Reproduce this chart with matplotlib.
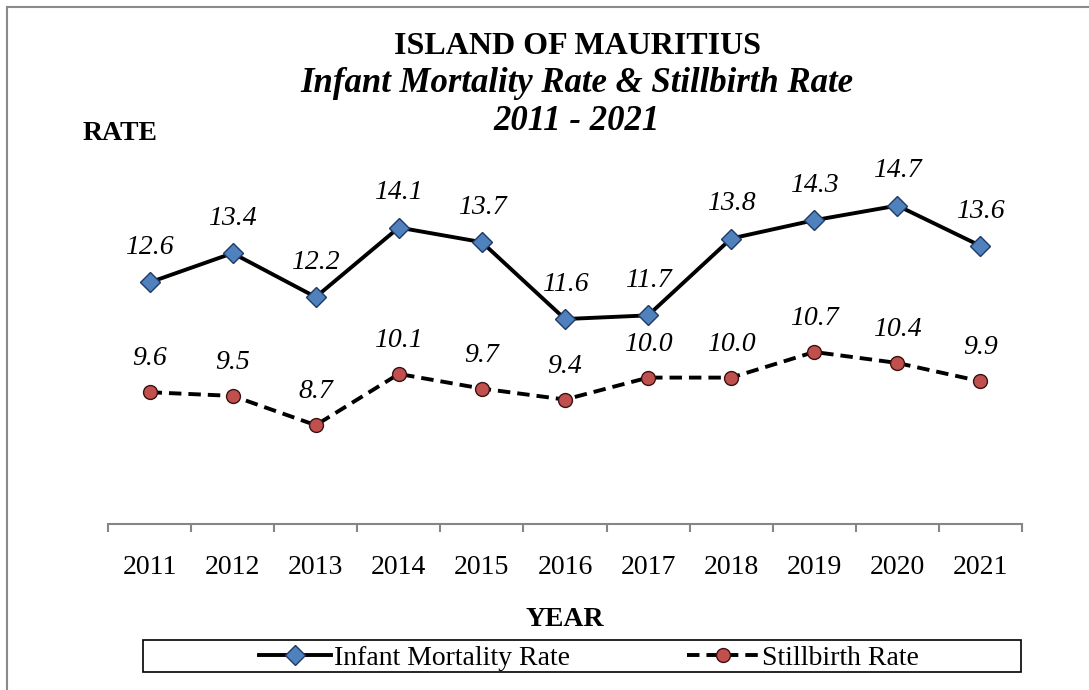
import matplotlib
matplotlib.use("Agg")
import matplotlib.pyplot as plt
import numpy as np
from matplotlib.lines import Line2D
from matplotlib.patches import Rectangle

plt.rcParams['font.family'] = ['Liberation Serif', 'DejaVu Serif']

years = ["2011", "2012", "2013", "2014", "2015", "2016",
         "2017", "2018", "2019", "2020", "2021"]
infant = [12.6, 13.4, 12.2, 14.1, 13.7, 11.6, 11.7, 13.8, 14.3, 14.7, 13.6]
still = [9.6, 9.5, 8.7, 10.1, 9.7, 9.4, 10.0, 10.0, 10.7, 10.4, 9.9]

fig = plt.figure(figsize=(10.89, 6.9), dpi=100)
ax = fig.add_axes([108/1089, 1-524/690, 914/1089, 366/690])

x = np.arange(len(years))
ax.plot(x, infant, color='black', lw=2.8, marker='D', ms=10.5,
        mfc='#4F81BD', mec='#1F3864', mew=1, label='Infant Mortality Rate')
ax.plot(x, still, color='black', lw=2.8, ls=(0, (3.2, 1.8)), marker='o', ms=10,
        mfc='#C0504D', mec='#3B1212', mew=1, label='Stillbirth Rate')

for xi, v in zip(x, infant):
    ax.annotate(f"{v:.1f}", (xi, v), xytext=(0, 25), textcoords='offset points',
                ha='center', va='center', fontsize=20, style='italic')
for xi, v in zip(x, still):
    ax.annotate(f"{v:.1f}", (xi, v), xytext=(0, 24), textcoords='offset points',
                ha='center', va='center', fontsize=20, style='italic')

ax.set_xlim(-0.5, len(years) - 0.5)
ax.set_ylim(6, 16)
ax.set_yticks([])
for s in ['left', 'right', 'top']:
    ax.spines[s].set_visible(False)
ax.spines['bottom'].set_color('#868686')
ax.spines['bottom'].set_linewidth(1.5)

ax.set_xticks(x)
ax.set_xticklabels(years, fontsize=20)
ax.set_xticks(np.arange(-0.5, len(years)), minor=True)
ax.tick_params(axis='x', which='major', length=0, pad=22)
ax.tick_params(axis='x', which='minor', length=6, width=1.5, color='#868686', direction='out')
ax.set_facecolor('none')

# titles
fig.text(577/1089, 1-47/690, "ISLAND OF MAURITIUS", ha='center', va='center',
         fontsize=23, weight='bold')
fig.text(577/1089, 1-84/690, "Infant Mortality Rate & Stillbirth Rate", ha='center',
         va='center', fontsize=25, weight='bold', style='italic')
fig.text(577/1089, 1-122/690, "2011 - 2021", ha='center', va='center',
         fontsize=25, weight='bold', style='italic')
fig.text(120/1089, 1-133/690, "RATE", ha='center', va='center', fontsize=20, weight='bold')
fig.text(565/1089, 1-619/690, "YEAR", ha='center', va='center', fontsize=20, weight='bold')

# outer border (top and left)
fig.add_artist(Line2D([7/1089, 7/1089], [0, 1-7/690], color='#8a8a8a', lw=1.5,
                      transform=fig.transFigure))
fig.add_artist(Line2D([7/1089, 1], [1-7/690, 1-7/690], color='#8a8a8a', lw=1.5,
                      transform=fig.transFigure))

# legend box
fig.add_artist(Rectangle((143/1089, 1-672/690), 878/1089, 32/690, fill=False,
                         ec='black', lw=1.2, transform=fig.transFigure))
handles, labels = ax.get_legend_handles_labels()
fig.legend(handles, labels, loc='center', bbox_to_anchor=(589/1089, 1-658/690),
           ncol=2, frameon=False, fontsize=20, handlelength=2.6, handletextpad=0.1,
           columnspacing=4.2, borderpad=0, borderaxespad=0)

fig.savefig("out.png", dpi=100)
